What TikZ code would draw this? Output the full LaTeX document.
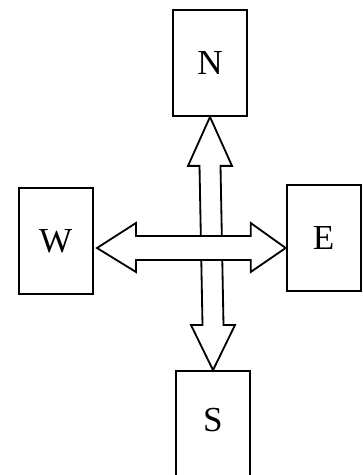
\documentclass[tikz,border=0pt]{standalone}
\usepackage{fontspec}
\setmainfont{Liberation Serif}
\usetikzlibrary{calc}

\begin{document}
\begin{tikzpicture}[line width=1.3pt,
  dirbox/.style={draw, minimum width=1.85cm, minimum height=2.65cm,
    font=\fontsize{25}{28}\selectfont},
  blockarrow/.style={draw, fill=white, line join=miter}]
\useasboundingbox (0,0) rectangle (9.05,11.875);

% the four boxes
\node[dirbox] (n) at (5.25,10.3) {N};
\node[dirbox] (w) at (1.39,5.84) {W};
\node[dirbox] (e) at (8.09,5.93) {E};
\node[dirbox, minimum height=2.7cm] (s) at (5.325,1.25) {\raisebox{0.25cm}{S}};

% vertical arrow between N and S
\coordinate (ntip) at (n.south);
\coordinate (stip) at (s.north);
\draw[blockarrow]
      (ntip) -- ($(ntip)+(0.55,-1.225)$) -- ($(ntip)+(0.2625,-1.225)$)
      -- ($(stip)+(0.2625,1.125)$) -- ($(stip)+(0.55,1.125)$) -- (stip)
      -- ($(stip)+(-0.55,1.125)$) -- ($(stip)+(-0.2625,1.125)$)
      -- ($(ntip)+(-0.2625,-1.225)$) -- ($(ntip)+(-0.55,-1.225)$) -- cycle;

% horizontal arrow between W and E
\coordinate (wtip) at (2.425,5.675);
\coordinate (etip) at (e.west |- wtip);
\draw[blockarrow]
      (wtip) -- ($(wtip)+(0.975,0.625)$) -- ($(wtip)+(0.975,0.3)$)
      -- ($(etip)+(-0.875,0.3)$) -- ($(etip)+(-0.875,0.625)$) -- (etip)
      -- ($(etip)+(-0.875,-0.6)$) -- ($(etip)+(-0.875,-0.3)$)
      -- ($(wtip)+(0.975,-0.3)$) -- ($(wtip)+(0.975,-0.6)$) -- cycle;
\end{tikzpicture}
\end{document}
